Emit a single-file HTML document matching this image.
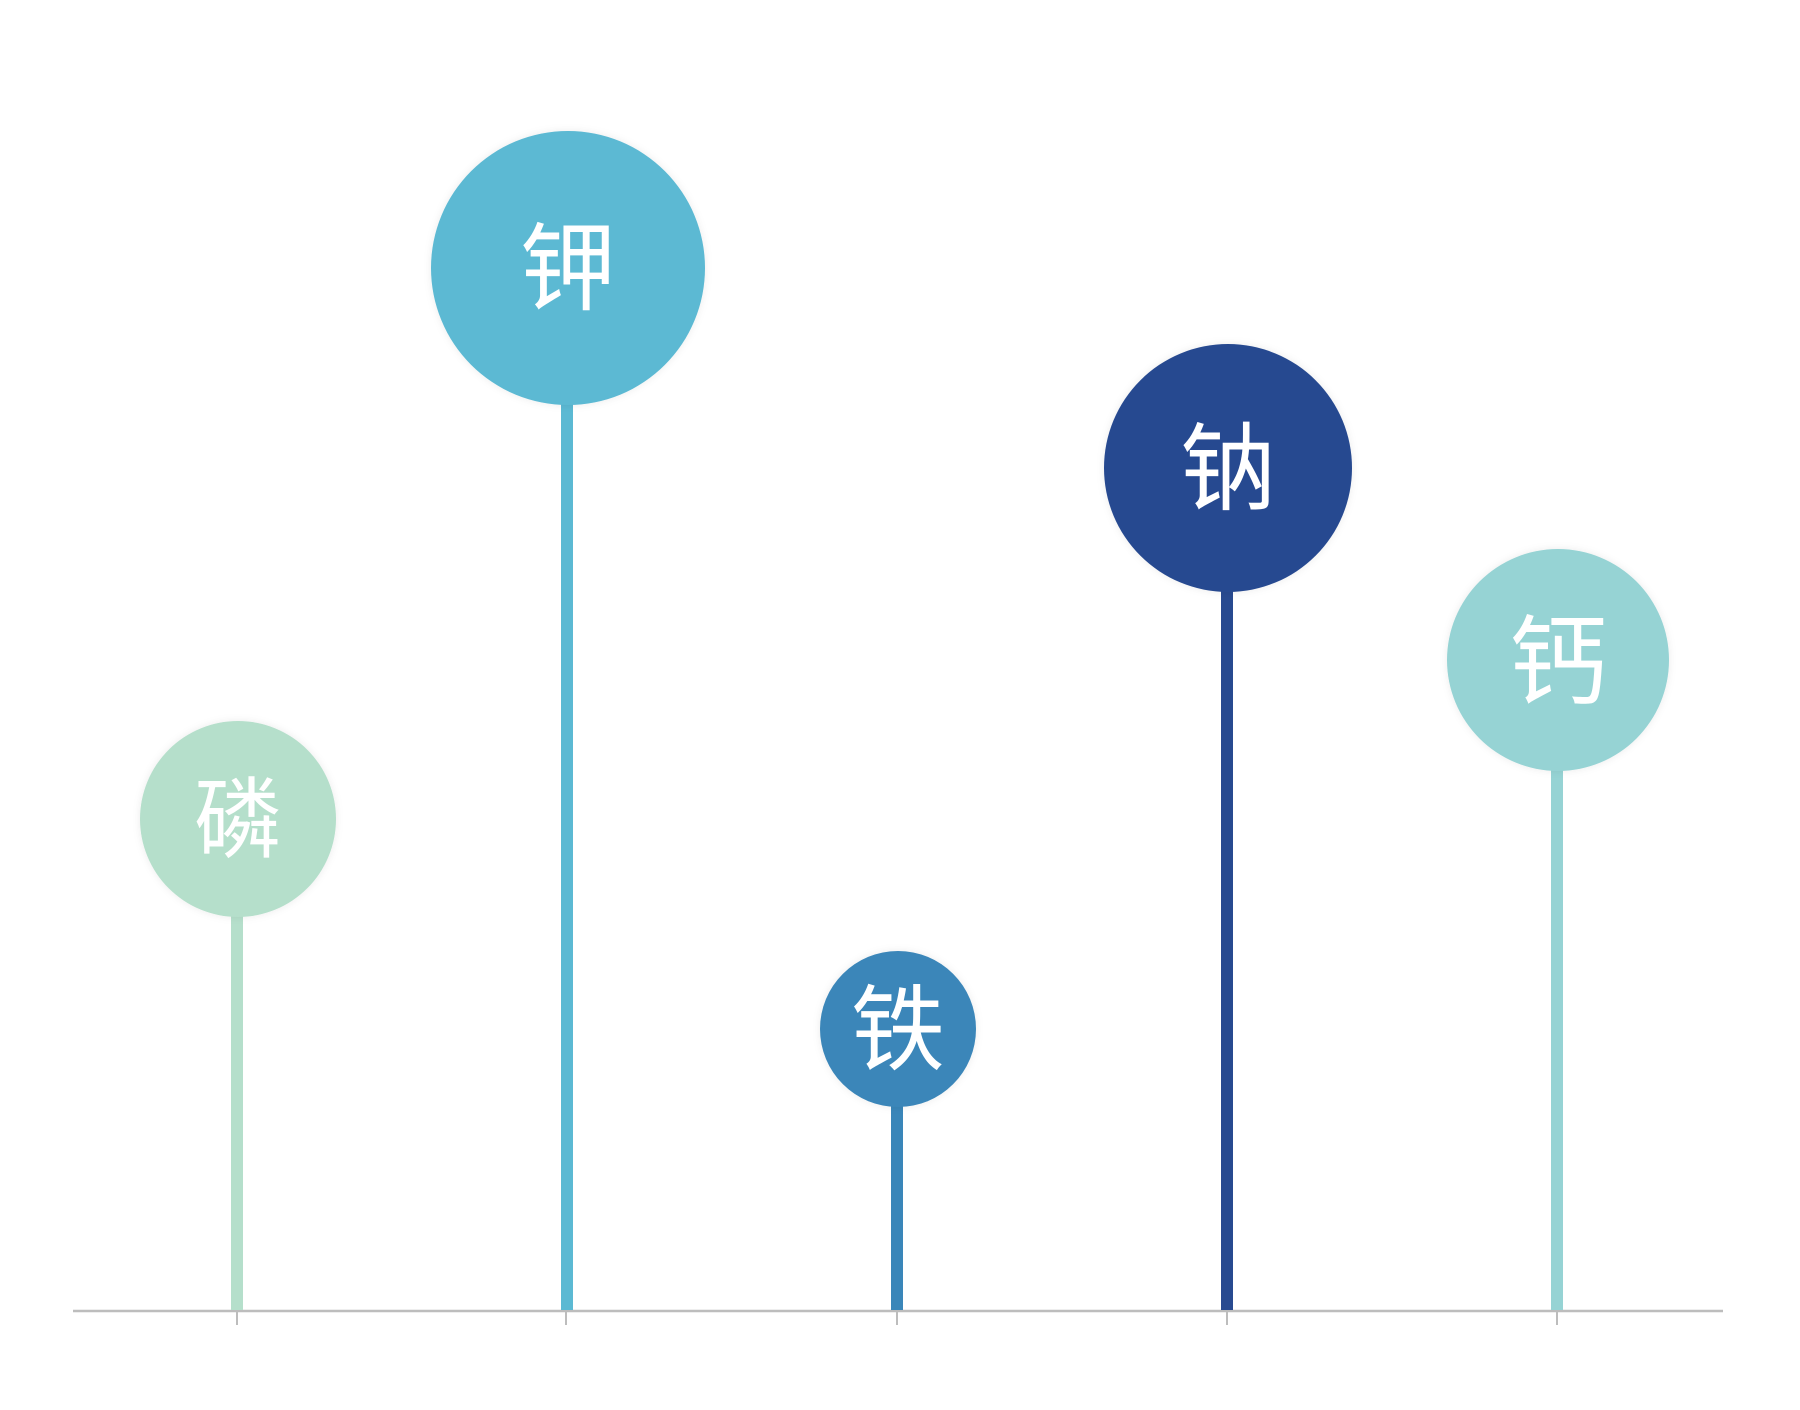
<!DOCTYPE html>
<html><head><meta charset="utf-8"><style>
html,body{margin:0;padding:0;background:#fff;}
svg{display:block;}
text{font-family:"Liberation Sans","Noto Sans CJK SC",sans-serif;font-weight:normal;fill:#fff;text-anchor:middle;dominant-baseline:central;}
</style></head><body>
<svg width="1800" height="1410" viewBox="0 0 1800 1410" xmlns="http://www.w3.org/2000/svg">
<defs>
<filter id="sh" x="-20%" y="-20%" width="140%" height="140%"><feDropShadow dx="0" dy="0" stdDeviation="4" flood-color="#000" flood-opacity="0.08"/></filter>
</defs>
<line x1="73" y1="1311" x2="1723" y2="1311" stroke="#bdbdbd" stroke-width="2.5"/>
<g stroke="#bdbdbd" stroke-width="2">
<line x1="237" y1="1311" x2="237" y2="1325"/>
<line x1="566" y1="1311" x2="566" y2="1325"/>
<line x1="897" y1="1311" x2="897" y2="1325"/>
<line x1="1227" y1="1311" x2="1227" y2="1325"/>
<line x1="1557" y1="1311" x2="1557" y2="1325"/>
</g>
<rect x="231" y="900" width="12" height="410" fill="#b5dfcb"/>
<rect x="561" y="380" width="12" height="930" fill="#5bb9d3"/>
<rect x="891" y="1080" width="12" height="230" fill="#3a86b9"/>
<rect x="1221" y="560" width="12" height="750" fill="#284a90"/>
<rect x="1551" y="740" width="12" height="570" fill="#96d3d4"/>
<g filter="url(#sh)">
<circle cx="238" cy="819" r="98" fill="#b5dfcb"/>
<circle cx="568" cy="268" r="137" fill="#5bb9d3"/>
<circle cx="898" cy="1029" r="78" fill="#3a86b9"/>
<circle cx="1228" cy="468" r="124" fill="#284a90"/>
<circle cx="1558" cy="660" r="111" fill="#96d3d4"/>
</g>
<text x="238" y="820" font-size="88">磷</text>
<text x="568" y="270" font-size="96">钾</text>
<text x="898" y="1030" font-size="94">铁</text>
<text x="1228" y="470" font-size="96">钠</text>
<text x="1558" y="662" font-size="98">钙</text>
</svg>
</body></html>
